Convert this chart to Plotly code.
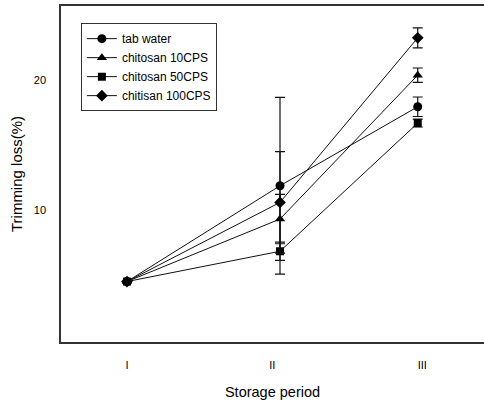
import plotly.graph_objects as go

# Storage period positions on the x scale and their tick labels
period_x = [1.0, 2.0, 2.9]
tick_pos = [1.0, 1.95, 2.93]
tick_text = ["I", "II", "III"]

# Trimming loss (%) per treatment
tab_water = [4.5, 11.87, 17.95]
tab_water_err = [None, 6.8, 0.75]

chitosan_10 = [4.5, 9.31, 20.38]
chitosan_10_err = [None, 1.9, 0.55]

chitosan_50 = [4.5, 6.83, 16.69]
chitosan_50_err = [None, 0.7, 0.3]

chitosan_100 = [4.5, 10.59, 23.25]
chitosan_100_err = [None, 3.9, 0.77]

series = [
    ("tab water", tab_water, tab_water_err, "circle", 9),
    ("chitosan 10CPS", chitosan_10, chitosan_10_err, "triangle-up", 9),
    ("chitosan 50CPS", chitosan_50, chitosan_50_err, "square", 8),
    ("chitisan 100CPS", chitosan_100, chitosan_100_err, "diamond", 9),
]

fig = go.Figure()
for name, vals, errs, symbol, size in series:
    fig.add_trace(go.Scatter(
        x=period_x, y=vals, name=name, mode="lines+markers",
        line=dict(color="#111111", width=1),
        marker=dict(symbol=symbol, size=size, color="#000000"),
        error_y=dict(type="data", array=errs, visible=True,
                     color="#111111", thickness=1.2, width=5),
    ))

font_family = "Liberation Sans, Arial, sans-serif"

fig.update_layout(
    width=484, height=402,
    margin=dict(l=61, r=0, t=6, b=60),
    paper_bgcolor="white", plot_bgcolor="white",
    font=dict(family=font_family, color="#000000"),
    showlegend=True,
    legend=dict(
        x=0.047, y=0.949, xanchor="left", yanchor="top",
        bordercolor="#333333", borderwidth=1, bgcolor="white",
        font=dict(size=12, family=font_family, color="#000000"),
        tracegroupgap=0,
    ),
    xaxis=dict(
        range=[0.569, 3.333], tickmode="array",
        tickvals=tick_pos, ticktext=tick_text,
        ticks="outside", ticklen=12, tickcolor="rgba(0,0,0,0)",
        tickfont=dict(size=11, color="#000000"),
        showline=True, mirror=True, linecolor="#333333", linewidth=1.5,
        showgrid=False, zeroline=False,
        title=dict(text="Storage period",
                   font=dict(size=14.5, color="#000000"), standoff=17),
    ),
    yaxis=dict(
        range=[-0.15, 25.7], tickmode="array", tickvals=[10, 20],
        ticks="outside", ticklen=11, tickcolor="rgba(0,0,0,0)",
        tickfont=dict(size=11, color="#000000"),
        showline=True, mirror=False, linecolor="#333333", linewidth=1.5,
        showgrid=False, zeroline=False,
        title=dict(text="Trimming loss(%)",
                   font=dict(size=15, color="#000000"), standoff=8),
    ),
)

fig.write_html("out.html")
